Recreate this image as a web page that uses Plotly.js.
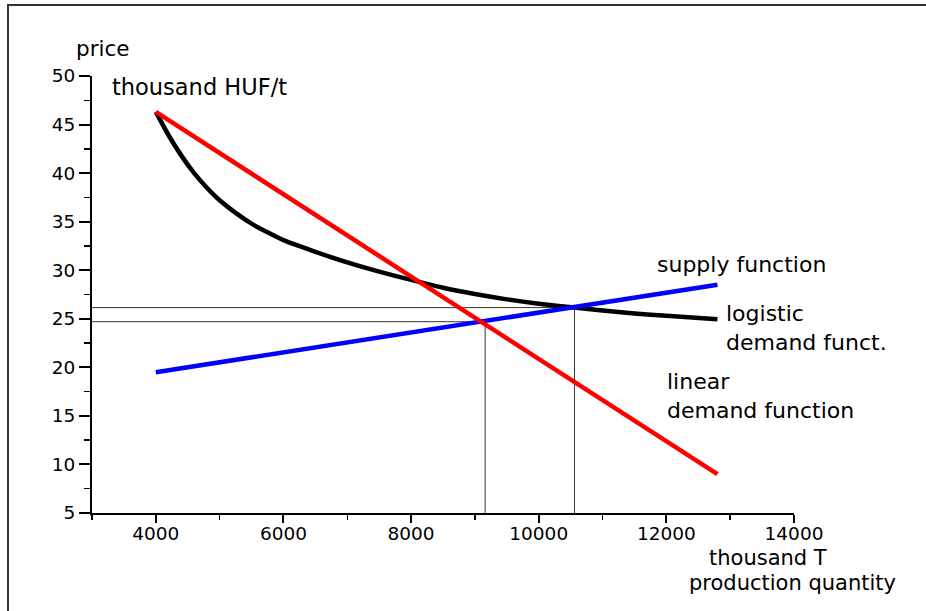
<!DOCTYPE html>
<html>
<head>
<meta charset="utf-8">
<script src="https://cdn.plot.ly/plotly-3.0.1.min.js"></script>
<style>
  html, body { margin: 0; padding: 0; background: #fff; }
  #wrap { position: relative; width: 926px; height: 611px; overflow: hidden; }
  #chart { position: absolute; left: 0; top: 0; width: 926px; height: 611px; }
  #frame { position: absolute; left: 7px; top: 4px; width: 940px; height: 700px;
           border-top: 2px solid #333; border-left: 2px solid #333; pointer-events: none; }
</style>
</head>
<body>
<div id="wrap">
  <div id="chart"></div>
  <div id="frame"></div>
</div>
<script>
// ---- data ----
const qLinear = [4000, 12800];
const pLinear = [46.3, 9.0];

const qSupply = [4000, 12800];
const pSupply = [19.5, 28.5];

const qLogistic = [4000, 4200, 4400, 4600, 4800, 5000, 5250, 5500, 5750, 6000, 6500, 7000, 7500, 8000, 8500, 9000, 9500, 10000, 10550, 11000, 11500, 12000, 12800];
const pLogistic = [46.3, 43.9, 41.8, 40.0, 38.5, 37.2, 35.9, 34.8, 33.9, 33.1, 31.9, 30.8, 29.85, 29.0, 28.2, 27.55, 27.0, 26.55, 26.15, 25.85, 25.55, 25.3, 24.95];

// equilibrium points (linear demand / supply, logistic demand / supply)
const eqQ = [9160, 10560];
const eqP = [24.7, 26.15];

const xMin = 3000, xMax = 14000;
const yMin = 5, yMax = 50;

const FONT = "DejaVu Sans, Liberation Sans, Arial, sans-serif";

const traces = [];

// thin guide lines from the equilibrium points to the axes
for (let i = 0; i < eqQ.length; i++) {
  traces.push({
    x: [xMin, eqQ[i], eqQ[i]],
    y: [eqP[i], eqP[i], yMin],
    mode: 'lines',
    line: { color: '#333', width: 1 },
    hoverinfo: 'skip',
    showlegend: false
  });
}

traces.push({
  x: qLogistic, y: pLogistic, mode: 'lines',
  line: { color: '#000000', width: 4.5, shape: 'spline', smoothing: 0.6 },
  name: 'logistic demand funct.', showlegend: false
});
traces.push({
  x: qSupply, y: pSupply, mode: 'lines',
  line: { color: '#0000ff', width: 4.5 },
  name: 'supply function', showlegend: false
});
traces.push({
  x: qLinear, y: pLinear, mode: 'lines',
  line: { color: '#ff0000', width: 4.5 },
  name: 'linear demand function', showlegend: false
});

function ann(text, x, y, size) {
  return { text: text, xref: 'paper', yref: 'paper', x: x, y: y,
           xanchor: 'left', yanchor: 'middle', align: 'left', showarrow: false,
           borderpad: 0, borderwidth: 0,
           font: { family: FONT, size: size, color: '#000' } };
}

const layout = {
  width: 926, height: 611,
  margin: { l: 92, r: 132, t: 76, b: 98, pad: 0 },
  paper_bgcolor: '#ffffff', plot_bgcolor: '#ffffff',
  showlegend: false,
  xaxis: {
    range: [xMin, xMax], showgrid: false, zeroline: false,
    showline: true, linecolor: '#000', linewidth: 2,
    ticks: 'outside', ticklen: 8, tickwidth: 2, tickcolor: '#000',
    tick0: 0, dtick: 2000, tickformat: 'd', ticklabelstandoff: -5,
    minor: { dtick: 1000, ticks: 'outside', ticklen: 5, tickwidth: 1.5, tickcolor: '#000' },
    tickfont: { family: FONT, size: 18.5, color: '#000' }
  },
  yaxis: {
    range: [yMin, yMax], showgrid: false, zeroline: false,
    showline: true, linecolor: '#000', linewidth: 2,
    ticks: 'outside', ticklen: 11, tickwidth: 2, tickcolor: '#000',
    tick0: 0, dtick: 5,
    minor: { dtick: 2.5, ticks: 'outside', ticklen: 6, tickwidth: 1.5, tickcolor: '#000' },
    tickfont: { family: FONT, size: 18.5, color: '#000' }
  },
  annotations: [
    ann('price', -0.0235, 1.064, 21.5),
    ann('thousand HUF/t', 0.029, 0.9755, 22.5),
    ann('supply function', 0.8045, 0.5686, 22),
    ann('logistic<br>demand funct.', 0.9025, 0.4229, 22),
    ann('linear<br>demand function', 0.819, 0.2684, 22),
    ann('thousand T', 0.879, -0.103, 21),
    ann('production quantity', 0.8505, -0.1603, 21)
  ]
};

Plotly.newPlot('chart', traces, layout, { staticPlot: true, displayModeBar: false });
</script>
</body>
</html>
